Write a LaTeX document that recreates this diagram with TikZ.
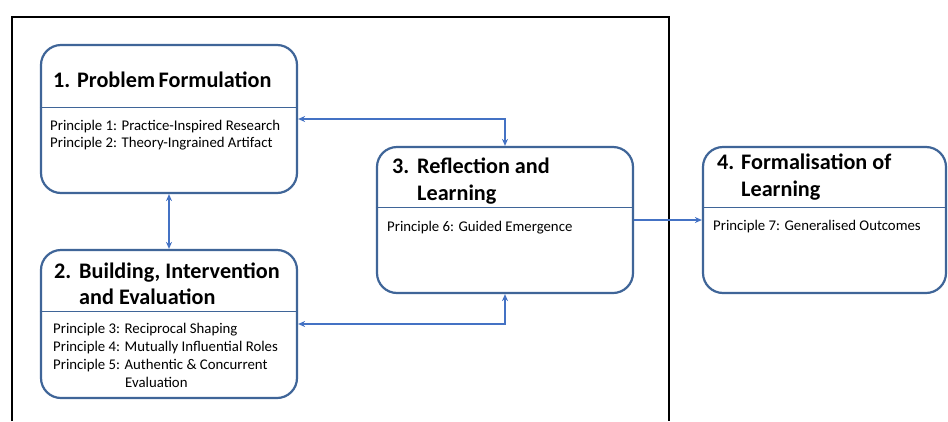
\documentclass[tikz,border=0pt]{standalone}
\usepackage{fontspec}
\setmainfont{Carlito}
\usetikzlibrary{arrows.meta}
\definecolor{boxblue}{HTML}{3F6598}
\definecolor{arrblue}{HTML}{4472C4}
\begin{document}
\begin{tikzpicture}[x=1pt,y=-1pt,
  pbox/.style={draw=boxblue,line width=2.2pt,rounded corners=20pt,inner sep=0pt,fill=white},
  div/.style={draw=boxblue,line width=0.8pt},
  arr/.style={draw=arrblue,line width=1.3pt,{Stealth[length=7pt,width=6pt]}-{Stealth[length=7pt,width=6pt]}},
  arrone/.style={draw=arrblue,line width=1.3pt,-{Stealth[length=7pt,width=6pt]}},
  frame/.style={draw=black,line width=1.4pt},
  ttl/.style={anchor=base west,inner sep=0pt,font=\fontsize{22.2}{25}\selectfont\bfseries},
  bdy/.style={anchor=base west,inner sep=0pt,font=\fontsize{14.8}{17}\selectfont}]
\useasboundingbox (0,0) rectangle (948,421);
\fill[white] (0,0) rectangle (948,421);
% outer frame
\coordinate (fa) at (12,421);
\coordinate (fb) at (12,17);
\coordinate (fc) at (669,17);
\coordinate (fd) at (669,421);
\draw[frame] (fa) -- (fb) -- (fc) -- (fd);
% boxes
\node[pbox,minimum width=256pt,minimum height=148pt] (b1) at (169,119) {};
\node[pbox,minimum width=256pt,minimum height=148pt] (b2) at (169,324) {};
\node[pbox,minimum width=256pt,minimum height=146pt] (b3) at (505,220) {};
\node[pbox,minimum width=243pt,minimum height=146pt] (b4) at (824.5,220) {};
% dividers
\draw[div] (b1.west |- 0,107) -- (b1.east |- 0,107);
\draw[div] (b2.west |- 0,311) -- (b2.east |- 0,311);
\draw[div] (b3.west |- 0,207) -- (b3.east |- 0,207);
\draw[div] (b4.west |- 0,207) -- (b4.east |- 0,207);
% titles
\node[ttl] (t1) at (53,87) {1. Problem\,Formulation};
\node[ttl] (t2a) at (54,278) {2.};
\node[ttl] (t2b) at (79,278) {Building, Intervention};
\node[ttl] (t2c) at (79,304) {and Evaluation};
\node[ttl] (t3a) at (392,173) {3.};
\node[ttl] (t3b) at (417,173) {Reflection and};
\node[ttl] (t3c) at (417,200) {Learning};
\node[ttl] (t4a) at (717,169) {4.};
\node[ttl] (t4b) at (741,169) {Formalisation of};
\node[ttl] (t4c) at (741,196) {Learning};
% bodies
\node[bdy] (p1) at (50,130) {Principle 1: Practice-Inspired Research};
\node[bdy] (p2) at (50,147) {Principle 2: Theory-Ingrained Artifact};
\node[bdy] (p3) at (53,333) {Principle 3: Reciprocal Shaping};
\node[bdy] (p4) at (53,351) {Principle 4: Mutually Influential Roles};
\node[bdy] (p5) at (53,369) {Principle 5: Authentic \& Concurrent};
\node[bdy] (p5b) at (125,387) {Evaluation};
\node[bdy] (p6) at (387,231) {Principle 6: Guided Emergence};
\node[bdy] (p7) at (713,230) {Principle 7: Generalised Outcomes};
% connectors
\draw[arr] (b1.south) -- (b2.north);
\draw[arr] (b1.east) -| (b3.north);
\draw[arr] (b2.east) -| (b3.south);
\draw[arrone] (b3.east) -- (b4.west);
\end{tikzpicture}
\end{document}
